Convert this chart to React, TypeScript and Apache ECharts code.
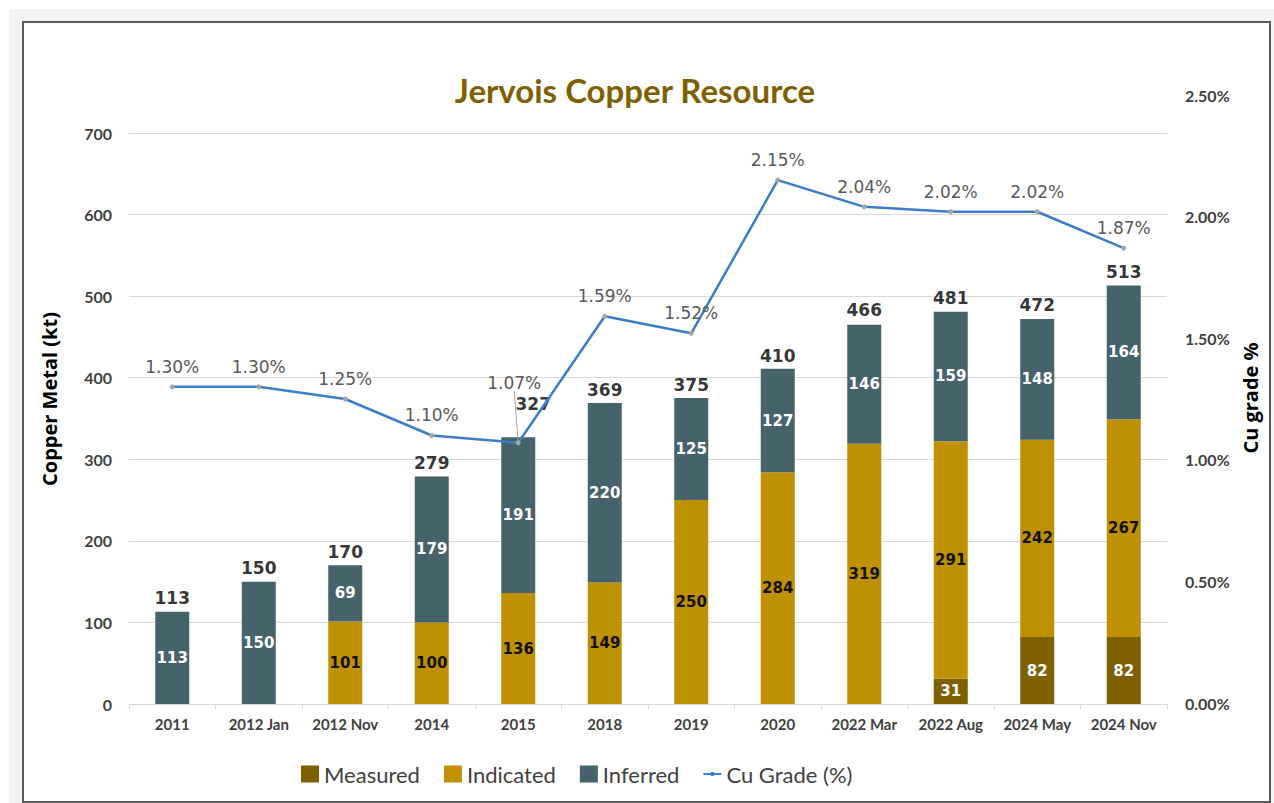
import React, { useEffect, useRef } from "react";
import * as echarts from "echarts";

const categories = ["2011", "2012 Jan", "2012 Nov", "2014", "2015", "2018", "2019", "2020", "2022 Mar", "2022 Aug", "2024 May", "2024 Nov"];
const measured = [0, 0, 0, 0, 0, 0, 0, 0, 0, 31, 82, 82];
const indicated = [0, 0, 101, 100, 136, 149, 250, 284, 319, 291, 242, 267];
const inferred = [113, 150, 69, 179, 191, 220, 125, 127, 146, 159, 148, 164];
const totals = [113, 150, 170, 279, 327, 369, 375, 410, 466, 481, 472, 513];
const grade = [1.30, 1.30, 1.25, 1.10, 1.07, 1.59, 1.52, 2.15, 2.04, 2.02, 2.02, 1.87];
const leftTicks = { min: 0, max: 700, interval: 100 };
const rightTicks = { min: 0, max: 2.5, interval: 0.5 };

const FONT = "Lato, 'Open Sans', sans-serif";
const LBL = "'DejaVu Sans', Verdana, sans-serif";
const NAMEFONT = "'Open Sans', Lato, sans-serif";

export default function App() {
  const ref = useRef<HTMLDivElement>(null);
  useEffect(() => {
    if (!ref.current) return;
    const chart = echarts.init(ref.current, undefined, { renderer: "svg" });
    const segLabel = (color: string) => ({
      show: true,
      position: "inside",
      color,
      fontFamily: LBL,
      fontWeight: "bold",
      fontSize: 15,
      formatter: (p: any) => (p.value ? String(p.value) : ""),
    });
    const option: any = {
      animation: false,
      textStyle: { fontFamily: FONT },
      title: {
        text: "Jervois Copper Resource",
        left: 630,
        textAlign: "center",
        top: 68,
        textStyle: { color: "#7F6000", fontSize: 33, fontWeight: "bold", fontFamily: FONT },
      },
      legend: {
        left: 296,
        top: 758,
        itemGap: 24,
        itemWidth: 18,
        itemHeight: 17,
        textStyle: { color: "#404040", fontSize: 22, fontFamily: FONT },
        data: [
          { name: "Measured", icon: "rect" },
          { name: "Indicated", icon: "rect" },
          { name: "Inferred", icon: "rect" },
          {
            name: "Cu Grade (%)",
            icon:
              "path://M0,0 L0.01,0 L0.01,0.01 Z M17.99,16.99 L18,16.99 L18,17 Z M0,7.5 L18,7.5 L18,9.5 L0,9.5 Z M7.5,6.5 L10.5,6.5 L10.5,10.5 L7.5,10.5 Z",
            itemStyle: { color: "#3B7DC8" },
          },
        ],
      },
      grid: [
        { left: 129, right: 107, top: 133, bottom: 99 },
        { left: 129, right: 107, top: 95, bottom: 100 },
      ],
      xAxis: [
        {
          type: "category",
          gridIndex: 0,
          data: categories,
          axisLine: { lineStyle: { color: "#D9D9D9" } },
          axisTick: { show: true, length: 5, lineStyle: { color: "#D9D9D9" } },
          axisLabel: { interval: 0, color: "#404040", fontWeight: "bold", fontSize: 15, margin: 12, fontFamily: FONT },
        },
        {
          type: "category",
          gridIndex: 1,
          data: categories,
          show: false,
        },
      ],
      yAxis: [
        {
          type: "value",
          gridIndex: 0,
          min: leftTicks.min,
          max: leftTicks.max,
          interval: leftTicks.interval,
          axisLine: { show: false },
          axisTick: { show: false },
          splitLine: { lineStyle: { color: "#D9D9D9" } },
          axisLabel: { color: "#404040", fontWeight: "bold", fontSize: 16, margin: 17, fontFamily: FONT },
        },
        {
          type: "value",
          gridIndex: 1,
          position: "right",
          min: rightTicks.min,
          max: rightTicks.max,
          interval: rightTicks.interval,
          axisLine: { show: false },
          axisTick: { show: false },
          splitLine: { show: false },
          axisLabel: {
            color: "#404040",
            fontWeight: "bold",
            fontSize: 16,
            margin: 18,
            fontFamily: FONT,
            formatter: (v: number) => v.toFixed(2) + "%",
          },
        },
      ],
      graphic: [
        {
          type: "text",
          x: 49,
          y: 399,
          rotation: Math.PI / 2,
          style: {
            text: "Copper Metal (kt)",
            fill: "#000",
            font: `bold 20px ${NAMEFONT}`,
            textAlign: "center",
            textVerticalAlign: "middle",
          },
        },
        {
          type: "text",
          x: 1250,
          y: 398,
          rotation: Math.PI / 2,
          style: {
            text: "Cu grade %",
            fill: "#000",
            font: `bold 20px ${NAMEFONT}`,
            textAlign: "center",
            textVerticalAlign: "middle",
          },
        },
      ],
      series: [
        {
          name: "Measured",
          type: "bar",
          stack: "res",
          xAxisIndex: 0,
          yAxisIndex: 0,
          barWidth: 34,
          itemStyle: { color: "#7F6000" },
          label: segLabel("#FFFFFF"),
          data: measured,
        },
        {
          name: "Indicated",
          type: "bar",
          stack: "res",
          xAxisIndex: 0,
          yAxisIndex: 0,
          barWidth: 34,
          itemStyle: { color: "#BF9000" },
          label: segLabel("#111111"),
          data: indicated,
        },
        {
          name: "Inferred",
          type: "bar",
          stack: "res",
          xAxisIndex: 0,
          yAxisIndex: 0,
          barWidth: 34,
          itemStyle: { color: "#46636B" },
          label: segLabel("#FFFFFF"),
          data: inferred,
        },
        {
          name: "Total",
          type: "scatter",
          xAxisIndex: 0,
          yAxisIndex: 0,
          symbolSize: 0,
          silent: true,
          label: {
            show: true,
            position: "top",
            distance: 5,
            color: "#000",
            fontWeight: "bold",
            fontSize: 17,
            fontFamily: LBL,
          },
          data: totals.map((v, i) =>
            i === 4 ? { value: v, label: { offset: [15, -20] } } : v
          ),
        },
        {
          name: "Cu Grade (%)",
          type: "line",
          xAxisIndex: 1,
          yAxisIndex: 1,
          symbol: "circle",
          symbolSize: 5,
          itemStyle: { color: "#A5A5A5" },
          lineStyle: { color: "#3B7DC8", width: 2.5 },
          label: {
            show: true,
            position: "top",
            distance: 9,
            color: "#595959",
            fontSize: 17,
            fontFamily: LBL,
            formatter: (p: any) => Number(p.value).toFixed(2) + "%",
          },
          labelLayout: (p: any) => (p.dataIndex === 4 ? { dx: -4, dy: -40 } : {}),
          data: grade.map((v, i) =>
            i === 4 ? { value: v, labelLine: { show: true, lineStyle: { color: "#A6A6A6", width: 1 } } } : v
          ),
        },
      ],
    };
    chart.setOption(option);
    return () => chart.dispose();
  }, []);

  return (
    <div style={{ position: "absolute", left: 0, top: 0, width: 1274, height: 803, background: "#FFFFFF", overflow: "hidden" }}>
      <div style={{ position: "absolute", left: 9, top: 9, width: 1265, height: 794, background: "#F3F3F3" }} />
      <div style={{ position: "absolute", left: 22, top: 21, width: 1245, height: 778, background: "#FFFFFF", border: "2px solid #5A5A5A" }} />
      <div ref={ref} style={{ position: "absolute", left: 0, top: 0, width: 1274, height: 803 }} />
    </div>
  );
}
